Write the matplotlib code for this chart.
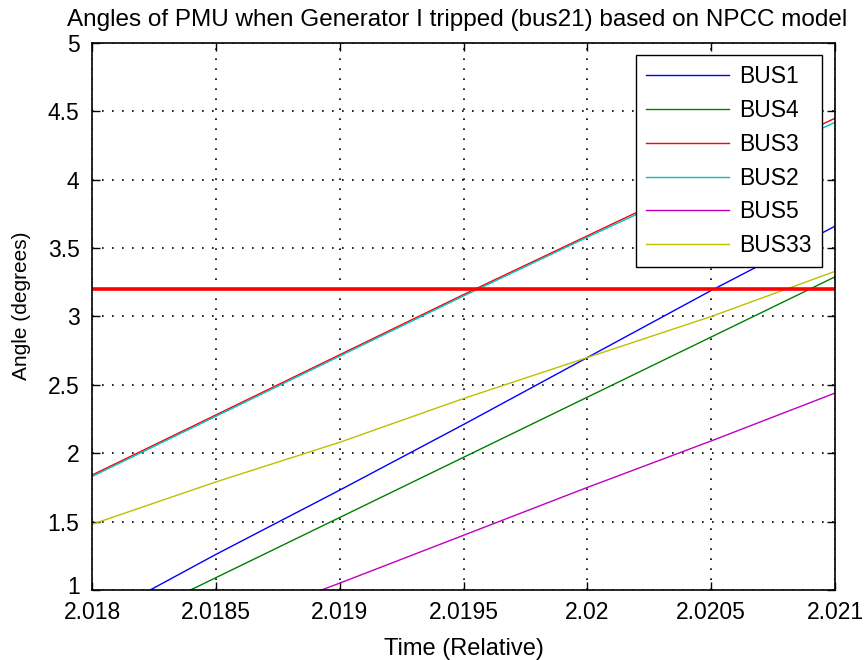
import matplotlib
matplotlib.use("Agg")
import matplotlib.pyplot as plt
import matplotlib.transforms as mtransforms

plt.rcParams['font.family'] = ['Liberation Sans', 'DejaVu Sans']

time = [2.018, 2.0185, 2.019, 2.0195, 2.02, 2.0205, 2.021]
bus1 = [0.77, 1.26, 1.73, 2.21, 2.70, 3.19, 3.66]
bus4 = [0.65, 1.09, 1.53, 1.97, 2.41, 2.85, 3.29]
bus3 = [1.84, 2.28, 2.72, 3.16, 3.59, 4.02, 4.45]
bus2 = [1.83, 2.27, 2.71, 3.15, 3.58, 4.00, 4.42]
bus5 = [0.36, 0.71, 1.05, 1.40, 1.75, 2.09, 2.44]
bus33 = [1.48, 1.79, 2.08, 2.40, 2.70, 3.00, 3.33]
threshold = 3.2

labels = ['BUS1', 'BUS4', 'BUS3', 'BUS2', 'BUS5', 'BUS33']
series = [bus1, bus4, bus3, bus2, bus5, bus33]
colors = ['#0000ff', '#008000', '#ff0000', '#00bfbf', '#bf00bf', '#bfbf00']

x_ticks = [2.018, 2.0185, 2.019, 2.0195, 2.02, 2.0205, 2.021]
x_ticklabels = ['2.018', '2.0185', '2.019', '2.0195', '2.02', '2.0205', '2.021']
y_ticks = [1, 1.5, 2, 2.5, 3, 3.5, 4, 4.5, 5]
y_ticklabels = ['1', '1.5', '2', '2.5', '3', '3.5', '4', '4.5', '5']

fig = plt.figure(figsize=(8.65, 6.6), dpi=100)
ax = fig.add_axes([0.1064, 0.1061, 0.859, 0.8288])

for vals, lab, col in zip(series, labels, colors):
    ax.plot(time, vals, color=col, lw=1.0, label=lab)

ax.axhline(threshold, color='#ff0000', lw=2.6)

ax.set_xlim(2.018, 2.021)
ax.set_ylim(1, 5)
ax.set_xticks(x_ticks)
ax.set_xticklabels(x_ticklabels)
ax.set_yticks(y_ticks)
ax.set_yticklabels(y_ticklabels)
ax.tick_params(direction='in', length=6, width=1, top=True, right=True,
               labelsize=16.5)
ax.tick_params(axis='x', pad=8)
ax.tick_params(axis='y', pad=9)
ax.grid(True, color='black', linestyle=(0, (1, 5)), linewidth=1.2)
for s in ax.spines.values():
    s.set_linewidth(1.2)

# nudge the lowest y tick label up slightly, as in the reference
first = ax.get_yticklabels()[0]
first.set_transform(first.get_transform() +
                    mtransforms.ScaledTranslation(0, 5 / 100, fig.dpi_scale_trans))

ax.set_title('Angles of PMU when Generator I tripped (bus21) based on NPCC model',
             fontsize=17.5, pad=12, x=0.491)
ax.set_xlabel('Time (Relative)', fontsize=17, labelpad=10)
ax.set_ylabel('Angle (degrees)', fontsize=15)
ax.yaxis.set_label_coords(-0.082, 0.519)

leg = ax.legend(loc='upper right', bbox_to_anchor=(0.9825, 0.978), fontsize=16.5,
                handlelength=3.6, handletextpad=0.45, fancybox=False,
                framealpha=1, edgecolor='black', borderpad=0.45, labelspacing=0.47,
                borderaxespad=0)
leg.get_frame().set_linewidth(1.0)

fig.savefig('out.png', dpi=100)
